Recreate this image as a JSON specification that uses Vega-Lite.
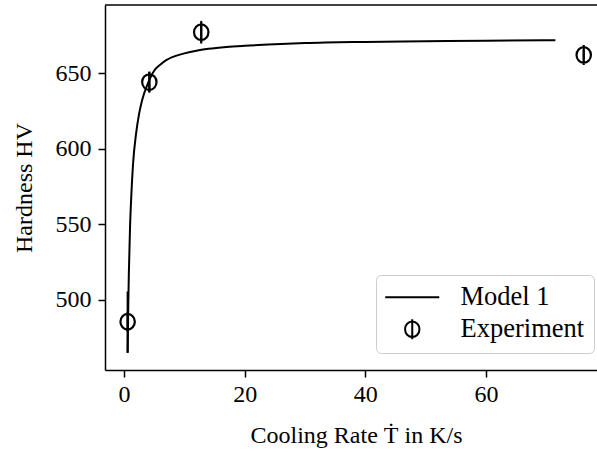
{
  "$schema": "https://vega.github.io/schema/vega-lite/v6.json",
  "width": 492,
  "height": 365,
  "autosize": {"type": "none"},
  "padding": {"left": 105, "top": 5, "right": 0, "bottom": 89},
  "background": "white",
  "config": {
    "font": "Liberation Serif",
    "view": {"stroke": null},
    "axis": {
      "grid": false,
      "domainColor": "black",
      "domainWidth": 1.5,
      "tickColor": "black",
      "tickWidth": 1.5,
      "tickSize": 7,
      "labelFont": "Liberation Serif",
      "labelFontSize": 24,
      "labelColor": "black",
      "titleFont": "Liberation Serif",
      "titleFontSize": 24,
      "titleFontWeight": "normal",
      "titleColor": "black"
    }
  },
  "datasets": {
    "model": [
      {"rate": 0.6, "hv": 465},
      {"rate": 0.7, "hv": 494},
      {"rate": 0.8, "hv": 517},
      {"rate": 1.0, "hv": 548},
      {"rate": 1.2, "hv": 568},
      {"rate": 1.5, "hv": 590},
      {"rate": 2.0, "hv": 610},
      {"rate": 2.5, "hv": 623},
      {"rate": 3.0, "hv": 632},
      {"rate": 4.0, "hv": 643.5},
      {"rate": 4.5, "hv": 648},
      {"rate": 5.0, "hv": 651.5},
      {"rate": 6.0, "hv": 655.5},
      {"rate": 7.0, "hv": 658.5},
      {"rate": 8.0, "hv": 660.5},
      {"rate": 10.0, "hv": 663},
      {"rate": 12.0, "hv": 664.8},
      {"rate": 14.0, "hv": 666},
      {"rate": 17.0, "hv": 667.2},
      {"rate": 20.0, "hv": 668},
      {"rate": 25.0, "hv": 669},
      {"rate": 30.0, "hv": 669.8},
      {"rate": 40.0, "hv": 670.6},
      {"rate": 50.0, "hv": 671.1},
      {"rate": 60.0, "hv": 671.4},
      {"rate": 71.5, "hv": 671.7}
    ],
    "exp": [
      {"rate": 0.6, "hv": 485.5, "lo": 465, "hi": 505.5},
      {"rate": 4.2, "hv": 644, "lo": 637, "hi": 651},
      {"rate": 12.8, "hv": 677, "lo": 669.5, "hi": 684.5},
      {"rate": 76.2, "hv": 662, "lo": 659, "hi": 665}
    ]
  },
  "layer": [
    {
      "data": {"name": "model"},
      "mark": {"type": "line", "color": "black", "strokeWidth": 2, "clip": true, "interpolate": "monotone"},
      "encoding": {
        "x": {
          "field": "rate", "type": "quantitative",
          "scale": {"domain": [-3.15, 78.4], "nice": false, "zero": false},
          "axis": {"values": [0, 20, 40, 60], "title": "Cooling Rate Ṫ in K/s", "titlePadding": 17, "labelPadding": 5, "titleX": 251}
        },
        "y": {
          "field": "hv", "type": "quantitative",
          "scale": {"domain": [453.6, 695], "nice": false, "zero": false},
          "axis": {"values": [500, 550, 600, 650], "title": "Hardness HV", "titlePadding": 19, "labelPadding": 7}
        }
      }
    },
    {
      "data": {"name": "exp"},
      "mark": {"type": "rule", "color": "black", "strokeWidth": 2},
      "encoding": {
        "x": {"field": "rate", "type": "quantitative"},
        "y": {"field": "lo", "type": "quantitative"},
        "y2": {"field": "hi"}
      }
    },
    {
      "data": {"name": "exp"},
      "transform": [{"calculate": "'Experiment'", "as": "series"}],
      "mark": {"type": "point", "filled": false, "color": "black", "strokeWidth": 2.2, "opacity": 1, "size": 400},
      "encoding": {
        "x": {"field": "rate", "type": "quantitative"},
        "y": {"field": "hv", "type": "quantitative"},
        "shape": {
          "field": "series", "type": "nominal",
          "scale": {"domain": ["Model 1", "Experiment"], "range": ["M-2.7,0L2.7,0", "M0,-1L0,1M-0.72,0A0.72,0.78 0 1,0 0.72,0A0.72,0.78 0 1,0 -0.72,0"]},
          "legend": {
            "title": null,
            "orient": "none",
            "legendX": 271,
            "legendY": 270,
            "fillColor": "white",
            "strokeColor": "#cccccc",
            "cornerRadius": 5,
            "padding": 9,
            "rowPadding": 4,
            "symbolSize": 400,
            "symbolStrokeWidth": 2,
            "symbolStrokeColor": "black",
            "symbolFillColor": "transparent",
            "symbolOffset": 14,
            "labelOffset": 35,
            "labelFont": "Liberation Serif",
            "labelFontSize": 26.5,
            "labelColor": "black"
          }
        }
      }
    },
    {
      "data": {"values": [{"rate": 0, "hv": 695}]},
      "mark": {"type": "rule", "color": "black", "strokeWidth": 1.5},
      "encoding": {
        "y": {"datum": 695, "type": "quantitative"}
      }
    }
  ]
}
